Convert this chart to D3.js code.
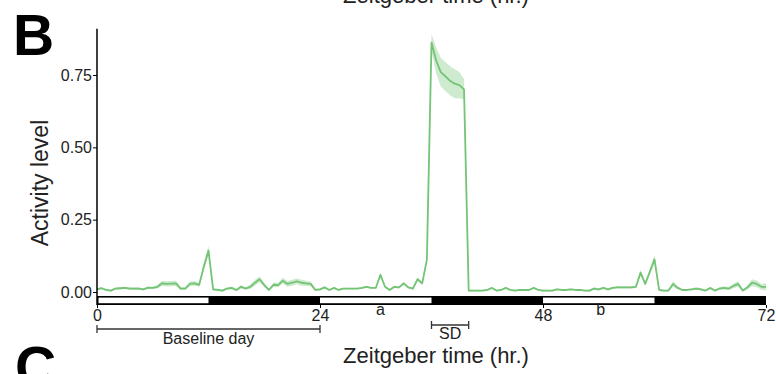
<!DOCTYPE html>
<html>
<head>
<meta charset="utf-8">
<script src="https://cdn.jsdelivr.net/npm/d3@7/dist/d3.min.js"></script>
<style>
  html, body { margin: 0; padding: 0; background: #fff; }
  svg { display: block; font-family: "Liberation Sans", Arial, sans-serif; }
</style>
</head>
<body>
<svg id="chart" width="776" height="374"></svg>
<script>
// Zeitgeber time in hours, sampled every 0.5 h
const hours = d3.range(0, 72.001, 0.5);
// Mean activity level
const activity = [
  0.009,0.013,0.007,0.005,0.012,0.013,0.014,0.012,0.012,0.012,0.009,0.015,0.014,0.018,0.030,0.028,
  0.029,0.030,0.012,0.012,0.028,0.030,0.025,0.088,0.143,0.009,0.007,0.005,0.012,0.014,0.007,0.018,
  0.012,0.018,0.032,0.044,0.024,0.007,0.025,0.024,0.039,0.028,0.032,0.037,0.032,0.030,0.028,0.007,
  0.009,0.016,0.007,0.014,0.007,0.012,0.012,0.012,0.012,0.014,0.018,0.014,0.014,0.059,0.018,0.007,
  0.018,0.016,0.030,0.016,0.012,0.044,0.030,0.111,0.862,0.800,0.760,0.745,0.730,0.720,0.715,0.700,
  0.005,0.005,0.005,0.005,0.007,0.014,0.005,0.007,0.014,0.007,0.005,0.007,0.007,0.007,0.014,0.007,
  0.005,0.005,0.005,0.009,0.007,0.007,0.009,0.007,0.007,0.005,0.005,0.012,0.009,0.014,0.009,0.014,
  0.016,0.016,0.016,0.016,0.018,0.067,0.028,0.070,0.113,0.007,0.005,0.005,0.028,0.014,0.007,0.007,
  0.009,0.012,0.009,0.005,0.014,0.005,0.012,0.014,0.012,0.021,0.028,0.005,0.016,0.032,0.028,0.018,
  0.018
];
// Standard error band half-width
const sem = [
  0.004,0.004,0.004,0.004,0.004,0.004,0.004,0.004,0.004,0.004,0.004,0.004,0.004,0.006,0.009,0.009,
  0.009,0.009,0.005,0.005,0.008,0.008,0.007,0.012,0.016,0.004,0.004,0.004,0.004,0.005,0.004,0.006,
  0.005,0.007,0.010,0.010,0.008,0.004,0.008,0.008,0.010,0.010,0.010,0.010,0.010,0.009,0.008,0.004,
  0.004,0.004,0.003,0.003,0.003,0.003,0.003,0.003,0.003,0.003,0.004,0.003,0.003,0.008,0.004,0.003,
  0.004,0.004,0.005,0.004,0.003,0.006,0.005,0.010,0.030,0.045,0.050,0.050,0.050,0.050,0.045,0.035,
  0.003,0.003,0.003,0.003,0.003,0.003,0.003,0.003,0.003,0.003,0.003,0.003,0.003,0.003,0.003,0.003,
  0.003,0.003,0.003,0.003,0.003,0.003,0.003,0.003,0.003,0.003,0.003,0.004,0.004,0.004,0.004,0.004,
  0.004,0.004,0.004,0.004,0.004,0.010,0.006,0.010,0.015,0.004,0.003,0.003,0.010,0.005,0.003,0.003,
  0.004,0.004,0.004,0.003,0.005,0.003,0.005,0.006,0.005,0.008,0.010,0.004,0.007,0.012,0.012,0.010,
  0.012
];
const yTicks = [0, 0.25, 0.5, 0.75];
const yTickLabels = ["0.00", "0.25", "0.50", "0.75"];
const xTicks = [0, 24, 48, 72];
// Light/dark schedule (start, end, light?)
const lightStart = [0, 12, 24, 36, 48, 60];
const lightEnd = [12, 24, 36, 48, 60, 72];
const lightOn = [true, false, true, false, true, false];
// Period labels
const periodNames = ["a", "b"];
const periodPos = [30.5, 54.2];
// Brackets
const bracketNames = ["Baseline day", "SD"];
const bracketStart = [0, 36];
const bracketEnd = [24, 40];

const svg = d3.select("#chart");
const x = d3.scaleLinear().domain([0, 72]).range([97, 766]);
const y = d3.scaleLinear().domain([0, 0.75]).range([292, 75]);

const data = hours.map((h, i) => ({ h, v: activity[i], e: sem[i] }));

// Panel letters and the cut-off title of the previous panel
svg.append("text").attr("x", 436).attr("y", 3).attr("text-anchor", "middle")
  .attr("font-size", 22).attr("fill", "#222").text("Zeitgeber time (hr.)");
svg.append("text").attr("x", 13).attr("y", 55).attr("font-size", 57)
  .attr("font-weight", "bold").attr("fill", "#000").text("B");
svg.append("text").attr("x", 15).attr("y", 387).attr("font-size", 57)
  .attr("font-weight", "bold").attr("fill", "#000").text("C");

// Error band
svg.append("path").datum(data)
  .attr("fill", "#74c476").attr("fill-opacity", 0.35)
  .attr("d", d3.area().x(d => x(d.h)).y0(d => y(Math.max(0, d.v - d.e))).y1(d => y(d.v + d.e)));
// Mean line
svg.append("path").datum(data)
  .attr("fill", "none").attr("stroke", "#74c476").attr("stroke-width", 1.8)
  .attr("stroke-linejoin", "round")
  .attr("d", d3.line().x(d => x(d.h)).y(d => y(d.v)));

// Y axis
const yAxis = svg.append("g").attr("transform", "translate(97,0)")
  .call(d3.axisLeft(y).tickValues(yTicks).tickFormat((d, i) => yTickLabels[i]).tickSize(4).tickSizeOuter(0));
yAxis.select(".domain").remove();
yAxis.selectAll(".tick line").attr("stroke", "#000").attr("stroke-width", 1);
yAxis.selectAll(".tick text").attr("font-size", 16).attr("fill", "#222")
  .attr("font-family", "Liberation Sans, Arial, sans-serif").attr("x", -5);
svg.append("line").attr("x1", 97).attr("x2", 97).attr("y1", y(0.91)).attr("y2", 305)
  .attr("stroke", "#000").attr("stroke-width", 1.5);

svg.append("text")
  .attr("transform", `translate(48,${183}) rotate(-90)`)
  .attr("text-anchor", "middle").attr("font-size", 23).attr("fill", "#222").text("Activity level");

// Light/dark bar
const barTop = 296, barH = 9;
svg.append("rect").attr("x", x(0)).attr("y", barTop).attr("width", x(72) - x(0)).attr("height", barH).attr("fill", "#000");
lightStart.forEach((s, i) => {
  if (lightOn[i]) {
    const x0 = x(s) + (s === 0 ? 1.5 : 0);
    svg.append("rect").attr("x", x0).attr("y", barTop + 1.6)
      .attr("width", x(lightEnd[i]) - x0).attr("height", barH - 3.4).attr("fill", "#fff");
  }
});

// X axis ticks below the bar
const xAxis = svg.append("g").attr("transform", `translate(0,${barTop + barH})`)
  .call(d3.axisBottom(x).tickValues(xTicks).tickSize(3).tickSizeOuter(0));
xAxis.select(".domain").remove();
xAxis.selectAll(".tick line").attr("stroke", "#000");
xAxis.selectAll(".tick text").attr("font-size", 16).attr("fill", "#222")
  .attr("font-family", "Liberation Sans, Arial, sans-serif").attr("dy", null).attr("y", 16);

// Period labels
periodNames.forEach((n, i) => {
  svg.append("text").attr("x", x(periodPos[i])).attr("y", 315).attr("text-anchor", "middle")
    .attr("font-size", 16).attr("fill", "#222").text(n);
});

// Brackets
const bracketY = [329, 325];
const textY = [344, 339];
bracketNames.forEach((n, i) => {
  const g = svg.append("g").attr("stroke", "#333").attr("stroke-width", 1.3);
  const x0 = x(bracketStart[i]), x1 = x(bracketEnd[i]), by = bracketY[i];
  g.append("line").attr("x1", x0).attr("x2", x1).attr("y1", by).attr("y2", by);
  g.append("line").attr("x1", x0).attr("x2", x0).attr("y1", by - 4).attr("y2", by + 4);
  g.append("line").attr("x1", x1).attr("x2", x1).attr("y1", by - 4).attr("y2", by + 4);
  svg.append("text").attr("x", (x0 + x1) / 2).attr("y", textY[i]).attr("text-anchor", "middle")
    .attr("font-size", 16).attr("fill", "#222").text(n);
});

svg.append("text").attr("x", 436).attr("y", 363).attr("text-anchor", "middle")
  .attr("font-size", 22).attr("fill", "#222").text("Zeitgeber time (hr.)");
</script>
</body>
</html>
